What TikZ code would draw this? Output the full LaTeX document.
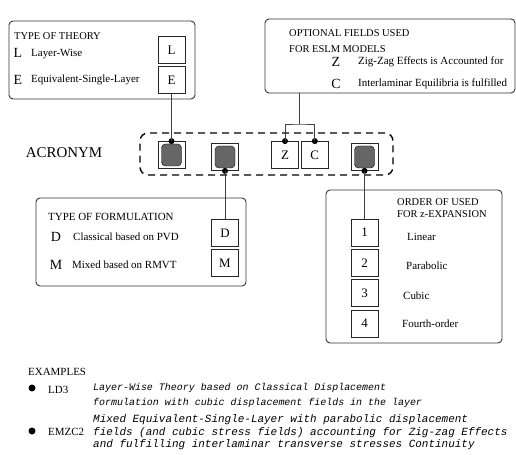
\documentclass[tikz,border=0pt]{standalone}
\usepackage{fontspec}
\setmainfont{Liberation Serif}
\setmonofont{Liberation Mono}
\usetikzlibrary{positioning}

\begin{document}
\begin{tikzpicture}[
			x=1bp,y=-1bp,
			node distance=2.5bp,
			panel/.style={draw=black!80,line width=0.9bp,rounded corners=4bp,inner sep=0pt},
			frame/.style={draw=black,line width=1.4bp,dash pattern=on 7bp off 5bp,rounded corners=8bp,inner sep=0pt},
			letterbox/.style={draw=black!85,line width=0.8bp,minimum width=27bp,minimum height=27bp,inner sep=0pt,font=\fontsize{13}{13}\selectfont},
			blob/.style={draw=black,fill=black!60,rounded corners=4bp,minimum width=20bp,minimum height=22bp,inner sep=0pt},
			dot/.style={circle,fill=black,inner sep=0pt,minimum size=6bp},
			conn/.style={draw=black!75,line width=0.8bp},
			title/.style={anchor=west,inner sep=0pt,align=left,font=\fontsize{10.5}{12.5}\selectfont},
			key/.style={inner sep=0pt,font=\fontsize{14}{14}\selectfont},
			desc/.style={anchor=west,inner sep=0pt,font=\fontsize{11}{12}\selectfont},
			example/.style={anchor=west,inner sep=0pt,align=left,font=\ttfamily\itshape}
		]
		\useasboundingbox (0,0) rectangle (516,455);

		\node[panel,minimum width=186bp,minimum height=78bp] (theory) at (102,60) {};
		\node[title] (theorytitle) at (14,36) {TYPE OF THEORY};
		\node[key] (kL) at (18,53) {L};
		\node[desc] (dL) at (31,54) {Layer-Wise};
		\node[key] (kE) at (18,80) {E};
		\node[desc] (dE) at (31,80) {Equivalent-Single-Layer};
		\node[letterbox] (boxL) at (171.5,50) {L};
		\node[letterbox,below=of boxL] (boxE) {E};

		\node[panel,minimum width=250bp,minimum height=74bp] (optional) at (390,56) {};
		\node[title,font=\fontsize{10.5}{16}\selectfont] (opttitle) at (289,41) {OPTIONAL FIELDS USED\\FOR ESLM MODELS};
		\node[key] (kZ) at (336,62) {Z};
		\node[desc] (dZ) at (358,62) {Zig-Zag Effects is Accounted for};
		\node[key] (kC) at (336,84) {C};
		\node[desc] (dC) at (358,84) {Interlaminar Equilibria is fulfilled};

		\node[font=\fontsize{15}{15}\selectfont] (acronym) at (64,153) {ACRONYM};
		\node[frame,minimum width=253bp,minimum height=42bp] (acrframe) at (266.5,154) {};
		\node[letterbox] (sq1) at (171.5,155) {};
		\node[blob] (g1) at (sq1) {};
		\node[letterbox] (sq2) at (225,157) {};
		\node[blob] (g2) at (sq2) {};
		\node[letterbox] (sqZ) at (285,155) {Z};
		\node[letterbox,right=2bp of sqZ] (sqC) {C};
		\node[letterbox] (sq4) at (364.5,157) {};
		\node[blob] (g4) at (sq4) {};

		\node[dot] (d1) at (sq1.north) {};
		\node[dot] (d2) at (sq2.south) {};
		\node[dot] (dz) at (sqZ.north) {};
		\node[dot] (dc) at (sqC.north) {};
		\node[dot] (d4) at (sq4.south) {};

		\node[panel,minimum width=210bp,minimum height=88bp] (formulation) at (141,242) {};
		\node[title,font=\fontsize{11}{12}\selectfont] (formtitle) at (48,217) {TYPE OF FORMULATION};
		\node[key] (kD) at (56,237) {D};
		\node[desc] (dD) at (73,237) {Classical based on PVD};
		\node[key] (kM) at (56,265) {M};
		\node[desc] (dM) at (72,265) {Mixed based on RMVT};
		\node[letterbox] (boxD) at (225,233) {D};
		\node[letterbox,below=2bp of boxD] (boxM) {M};

		\node[panel,minimum width=176bp,minimum height=153bp] (order) at (414,266.5) {};
		\node[title] (ordertitle) at (397,208) {ORDER OF USED\\FOR z-EXPANSION};
		\node[letterbox] (box1) at (364.5,232.5) {1};
		\node[letterbox,below=of box1] (box2) {2};
		\node[letterbox,below=of box2] (box3) {3};
		\node[letterbox,below=of box3] (box4) {4};
		\node[desc] (o1) at (407,237) {Linear};
		\node[desc] (o2) at (406,266) {Parabolic};
		\node[desc] (o3) at (403,296) {Cubic};
		\node[desc] (o4) at (402,324) {Fourth-order};

		\coordinate (brk) at (299.5,124);
		\draw[conn] (boxE.south) -- (d1.center);
		\draw[conn] (d2.center) -- (boxD.north);
		\draw[conn] (d4.center) -- (box1.north);
		\draw[conn] (dz.center) |- (brk) -| (dc.center);
		\draw[conn] (brk) -- (brk |- optional.south);

		\node[title,font=\fontsize{11}{12}\selectfont] (examples) at (28,372) {EXAMPLES};
		\node[dot,minimum size=7bp] (b1) at (32,388) {};
		\node[desc] (ld3) at (48,390) {LD3};
		\node[example,font=\ttfamily\itshape\fontsize{10}{15}\selectfont] (ex1) at (93,395.5) {Layer-Wise Theory based on Classical Displacement\\formulation with cubic displacement fields in the layer};
		\node[dot,minimum size=7bp] (b2) at (32,431) {};
		\node[desc] (emzc2) at (48,432) {EMZC2};
		\node[example,font=\ttfamily\itshape\fontsize{11}{12.5}\selectfont] (ex2) at (93,432.5) {Mixed Equivalent-Single-Layer with parabolic displacement\\fields (and cubic stress fields) accounting for Zig-zag Effects\\and fulfilling interlaminar transverse stresses Continuity};
	\end{tikzpicture}
\end{document}
